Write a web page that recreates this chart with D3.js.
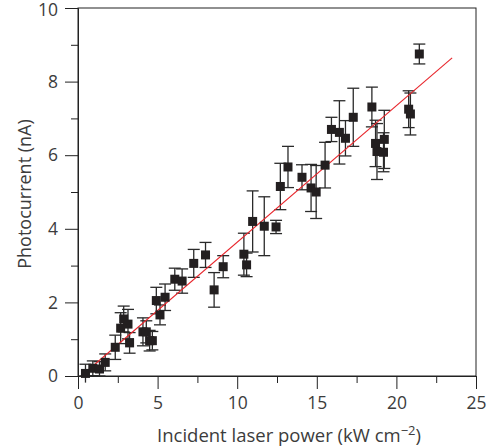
<!DOCTYPE html>
<html lang="en">
<head>
    <meta charset="UTF-8">
    <title>Photocurrent vs incident laser power</title>
    <script src="https://d3js.org/d3.v7.min.js"></script>
    <style>
        body { margin: 0; background: #fff; }
        text { font-family: "Open Sans", "Noto Sans", sans-serif; fill: #3c3c3c; }
    </style>
</head>
<body>
    <div id="chart"></div>

    <script>
        // data
        const power = [0.47, 0.93, 1.35, 1.71, 2.34, 2.68, 2.87, 3.14, 3.24, 4.08, 4.29, 4.50, 4.67,
                       4.92, 5.15, 5.47, 6.08, 6.54, 7.27, 8.01, 8.55, 9.12, 10.42, 10.59, 10.97, 11.70,
                       12.44, 12.71, 13.19, 14.07, 14.64, 14.96, 15.52, 15.92, 16.42, 16.80, 17.29,
                       18.46, 18.69, 18.78, 19.24, 19.19, 20.77, 20.88, 21.44];
        const current = [0.07, 0.21, 0.19, 0.37, 0.78, 1.30, 1.55, 1.41, 0.90, 1.20, 1.20, 0.96, 0.96,
                         2.05, 1.66, 2.14, 2.63, 2.58, 3.06, 3.29, 2.34, 2.97, 3.31, 3.02, 4.20, 4.07,
                         4.05, 5.15, 5.68, 5.40, 5.11, 5.00, 5.73, 6.70, 6.62, 6.46, 7.03,
                         7.31, 6.32, 6.10, 6.43, 6.08, 7.25, 7.12, 8.75];
        const errors = [0.25, 0.2, 0.2, 0.23, 0.33, 0.42, 0.35, 0.4, 0.28, 0.38, 0.3, 0.28, 0.25,
                        0.36, 0.27, 0.36, 0.3, 0.33, 0.38, 0.34, 0.47, 0.3, 0.57, 0.32, 0.83, 0.8,
                        0.18, 0.63, 0.56, 0.34, 0.64, 0.72, 0.62, 0.33, 0.86, 0.48, 0.79,
                        0.54, 0.63, 0.76, 0.79, 0.53, 0.5, 0.57, 0.27];
        // linear fit line
        const fitX = [0.2, 23.5];
        const fitSlope = 0.371;
        const xTicks = [0, 5, 10, 15, 20, 25];
        const yTicks = [0, 2, 4, 6, 8, 10];

        const width = 493, height = 448;
        const margin = { top: 8, right: 17, bottom: 72, left: 78 };
        const w = width - margin.left - margin.right;
        const h = height - margin.top - margin.bottom;

        const svg = d3.select("#chart").append("svg")
            .attr("width", width)
            .attr("height", height);

        const g = svg.append("g")
            .attr("transform", `translate(${margin.left},${margin.top})`);

        const x = d3.scaleLinear().domain([0, 25]).range([0, w]);
        const y = d3.scaleLinear().domain([0, 10]).range([h, 0]);

        // frame
        g.append("rect")
            .attr("width", w).attr("height", h)
            .attr("fill", "none").attr("stroke", "#222").attr("stroke-width", 1);

        // minor ticks
        g.append("g").attr("transform", `translate(0,${h})`)
            .call(d3.axisBottom(x).tickValues(d3.range(2.5, 25, 5)).tickSize(7).tickFormat(""))
            .call(s => s.select(".domain").remove());
        g.append("g")
            .call(d3.axisLeft(y).tickValues(d3.range(1, 10, 2)).tickSize(7).tickFormat(""))
            .call(s => s.select(".domain").remove());

        // major ticks
        g.append("g").attr("transform", `translate(0,${h})`)
            .call(d3.axisBottom(x).tickValues(xTicks).tickSize(13).tickPadding(8));
        const yAxis = g.append("g")
            .call(d3.axisLeft(y).tickValues(yTicks).tickSize(13).tickPadding(7));

        g.selectAll(".tick line").attr("stroke", "#222");
        g.selectAll(".domain").attr("stroke", "#222");
        g.selectAll(".tick text").attr("font-size", 17.5).attr("fill", "#3c3c3c")
            .style("font-family", '"Open Sans", sans-serif');
        // keep the top label inside the page
        yAxis.selectAll(".tick text").filter(d => d === 10).attr("dy", "0.42em");

        // error bars
        const pts = power.map((p, i) => ({ x: p, y: current[i], e: errors[i] }));
        const cap = 6;
        const eb = g.append("g").attr("stroke", "#2a2a2a").attr("stroke-width", 1.3);
        eb.selectAll(".v").data(pts).enter().append("line")
            .attr("x1", d => x(d.x)).attr("x2", d => x(d.x))
            .attr("y1", d => y(d.y - d.e)).attr("y2", d => y(d.y + d.e));
        eb.selectAll(".t").data(pts).enter().append("line")
            .attr("x1", d => x(d.x) - cap).attr("x2", d => x(d.x) + cap)
            .attr("y1", d => y(d.y + d.e)).attr("y2", d => y(d.y + d.e));
        eb.selectAll(".b").data(pts).enter().append("line")
            .attr("x1", d => x(d.x) - cap).attr("x2", d => x(d.x) + cap)
            .attr("y1", d => y(Math.max(0, d.y - d.e))).attr("y2", d => y(Math.max(0, d.y - d.e)));

        // fit line
        g.append("line")
            .attr("x1", x(fitX[0])).attr("y1", y(fitSlope * (fitX[0] - 0.2)))
            .attr("x2", x(fitX[1])).attr("y2", y(fitSlope * (fitX[1] - 0.2)))
            .attr("stroke", "#e8252b").attr("stroke-width", 1.1);

        // square markers
        const s = 9;
        g.selectAll(".m").data(pts).enter().append("rect")
            .attr("x", d => x(d.x) - s / 2)
            .attr("y", d => y(d.y) - s / 2)
            .attr("width", s).attr("height", s)
            .attr("fill", "#231f20");

        // axis titles
        const xt = svg.append("text")
            .attr("x", margin.left + w / 2 + 12)
            .attr("y", 442)
            .attr("text-anchor", "middle")
            .attr("font-size", 18.5);
        xt.append("tspan").text("Incident laser power (kW cm");
        xt.append("tspan").attr("dy", -7).attr("font-size", 13).text("\u22122");
        xt.append("tspan").attr("dy", 7).text(")");

        svg.append("text")
            .attr("transform", "rotate(-90)")
            .attr("x", -194)
            .attr("y", 31)
            .attr("text-anchor", "middle")
            .attr("font-size", 18)
            .text("Photocurrent (nA)");
    </script>
</body>
</html>
